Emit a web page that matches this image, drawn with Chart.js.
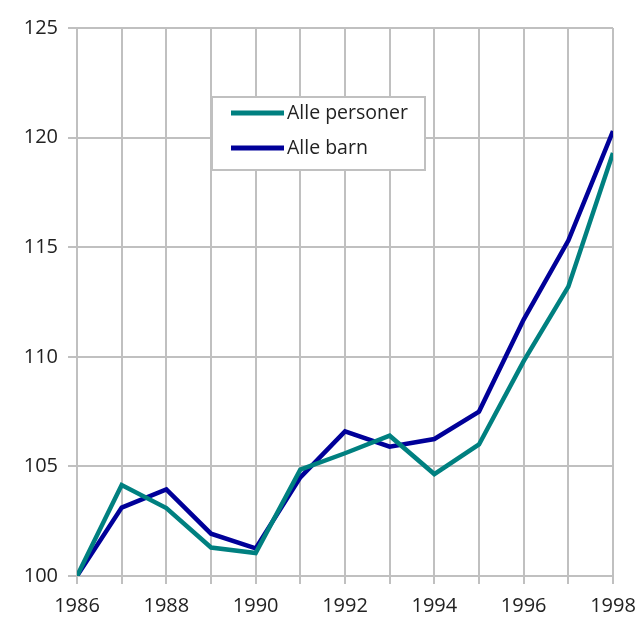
<!DOCTYPE html>
<html>
<head>
<meta charset="utf-8">
<script src="https://cdn.jsdelivr.net/npm/chart.js@4.4.1/dist/chart.umd.min.js"></script>
<style>
  html, body { margin: 0; padding: 0; background: #fff; }
  #wrap { width: 638px; height: 635px; }
</style>
</head>
<body>
<div id="wrap"><canvas id="chart_index" width="638" height="635"></canvas></div>
<script>
var years = [1986, 1987, 1988, 1989, 1990, 1991, 1992, 1993, 1994, 1995, 1996, 1997, 1998];
var allePersoner = [100, 104.15, 103.1, 101.3, 101.05, 104.85, 105.6, 106.4, 104.65, 106.0, 109.8, 113.2, 119.3];
var alleBarn = [100, 103.12, 103.95, 101.93, 101.26, 104.5, 106.6, 105.9, 106.25, 107.5, 111.7, 115.3, 120.3];
var yTicks = [100, 105, 110, 115, 120, 125];

var gridColor = "#c0c0c0";
var textColor = "#222222";

function toPoints(values) {
    return values.map(function (v, i) { return {x: years[i], y: v}; });
}

// legend box drawn inside the plot, like the original
var boxLegend = {
    id: "boxLegend",
    afterDraw: function (chart) {
        var c = chart.ctx;
        var x = 212, y = 97, w = 213, h = 73;
        c.save();
        c.fillStyle = "#ffffff";
        c.fillRect(x, y, w, h);
        c.strokeStyle = gridColor;
        c.lineWidth = 2;
        c.strokeRect(x, y, w, h);
        c.font = "19.5px 'Open Sans'";
        c.textBaseline = "middle";
        chart.data.datasets.forEach(function (ds, i) {
            var ly = 113 + i * 35;
            c.strokeStyle = ds.borderColor;
            c.lineWidth = 5;
            c.beginPath();
            c.moveTo(231, ly);
            c.lineTo(284, ly);
            c.stroke();
            c.fillStyle = textColor;
            c.fillText(ds.label, 287, ly);
        });
        c.restore();
    }
};

var ctx = document.getElementById("chart_index").getContext('2d');
var chart = new Chart(ctx, {
    type: "line",
    data: {
        datasets: [
            {label: "Alle personer", data: toPoints(allePersoner), borderColor: "#008080", borderWidth: 4.5, pointRadius: 0, fill: false, tension: 0},
            {label: "Alle barn", data: toPoints(alleBarn), borderColor: "#000099", borderWidth: 4.5, pointRadius: 0, fill: false, tension: 0}
        ]
    },
    options: {
        responsive: false,
        animation: false,
        layout: {padding: {left: 0, right: 25, top: 28, bottom: 0}},
        plugins: {legend: {display: false}, tooltip: {enabled: false}},
        scales: {
            x: {
                type: "linear",
                min: years[0],
                max: years[years.length - 1],
                afterBuildTicks: function (axis) {
                    axis.ticks = years.map(function (v) { return {value: v}; });
                },
                afterFit: function (axis) {
                    axis.height = 59;
                    axis.paddingLeft = 0;
                    axis.paddingRight = 0;
                },
                ticks: {
                    autoSkip: false,
                    maxRotation: 0,
                    padding: 10,
                    color: textColor,
                    font: {family: "'Open Sans'", size: 20},
                    callback: function (v) { return v % 2 === 0 ? String(v) : ""; }
                },
                grid: {color: gridColor, lineWidth: 2, tickLength: 8},
                border: {color: gridColor, width: 2}
            },
            y: {
                min: 100,
                max: 125,
                afterBuildTicks: function (axis) {
                    axis.ticks = yTicks.map(function (v) { return {value: v}; });
                },
                afterFit: function (axis) {
                    axis.width = 77;
                    axis.paddingTop = 0;
                    axis.paddingBottom = 0;
                },
                ticks: {
                    padding: 10,
                    color: textColor,
                    font: {family: "'Open Sans'", size: 20}
                },
                grid: {color: gridColor, lineWidth: 2, tickLength: 9},
                border: {color: gridColor, width: 2}
            }
        }
    },
    plugins: [boxLegend]
});
</script>
</body>
</html>
